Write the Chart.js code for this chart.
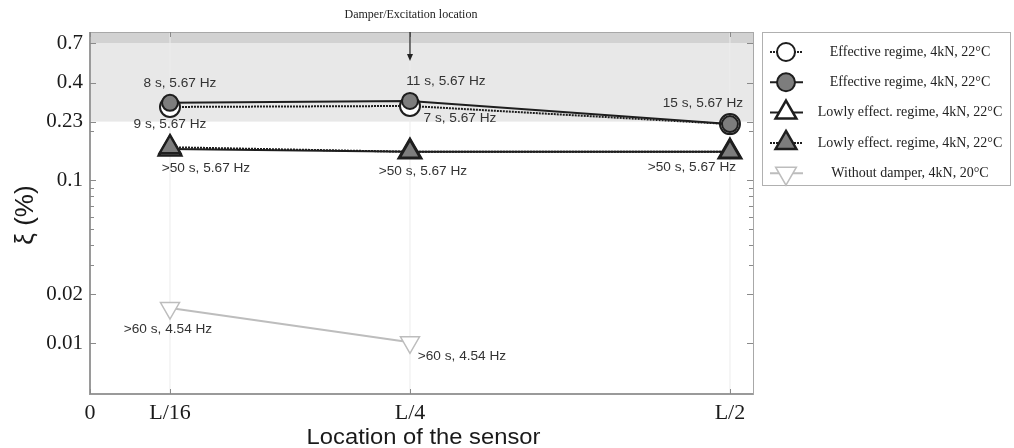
<!DOCTYPE html>
<html>
<head>
<meta charset="utf-8">
<script src="https://cdn.jsdelivr.net/npm/chart.js@4.4.1/dist/chart.umd.min.js"></script>
<style>
  body { margin: 0; background: #fff; }
  #wrap { width: 1014px; height: 448px; }
</style>
</head>
<body>
<div id="wrap"><canvas id="myChart" width="1014" height="448"></canvas></div>
<script>
// sensor positions (fraction of span L)
const positions = [0.0625, 0.25, 0.5];
const withoutDamperPositions = [0.0625, 0.25];
const xTickValues = [0, 0.0625, 0.25, 0.5];
const xTickLabels = ['0', 'L/16', 'L/4', 'L/2'];
const yTickValues = [0.01, 0.02, 0.1, 0.23, 0.4, 0.7];
const yMinorTicks = [0.03, 0.04, 0.05, 0.06, 0.07, 0.08, 0.09, 0.2];
const bandLow = 0.23;
const bandHigh = 0.7;

// damping ratio xi (%)
const effectiveOpen = [0.283, 0.287, 0.222];
const effectiveFilled = [0.300, 0.308, 0.222];
const lowlyOpen = [0.156, 0.150, 0.150];
const lowlyFilled = [0.160, 0.150, 0.150];
const withoutDamper = [0.0164, 0.0101];

// decay time / frequency notes
const effectiveFilledNotes = ['8 s, 5.67 Hz', '11 s, 5.67 Hz', '15 s, 5.67 Hz'];
const effectiveOpenNotes = ['9 s, 5.67 Hz', '7 s, 5.67 Hz', ''];
const lowlyNotes = ['>50 s, 5.67 Hz', '>50 s, 5.67 Hz', '>50 s, 5.67 Hz'];
const withoutDamperNotes = ['>60 s, 4.54 Hz', '>60 s, 4.54 Hz'];

const seriesNames = [
  'Effective regime, 4kN, 22\u00B0C',
  'Effective regime, 4kN, 22\u00B0C',
  'Lowly effect. regime, 4kN, 22\u00B0C',
  'Lowly effect. regime, 4kN, 22\u00B0C',
  'Without damper, 4kN, 20\u00B0C'
];

const toPoints = (xs, ys) => ys.map((v, i) => ({ x: xs[i], y: v }));

const DARK = '#1e1e1e';
const FILL = '#7d7d7d';
const LIGHT = '#bdbdbd';

const datasets = [
  { label: seriesNames[0], data: toPoints(positions, effectiveOpen), borderColor: DARK, borderWidth: 2, borderDash: [2, 1],
    pointStyle: 'circle', pointRadius: 10, pointBackgroundColor: '#fff', pointBorderColor: DARK, pointBorderWidth: 2, order: 2 },
  { label: seriesNames[1], data: toPoints(positions, effectiveFilled), borderColor: DARK, borderWidth: 2,
    pointStyle: 'circle', pointRadius: 8, pointBackgroundColor: FILL, pointBorderColor: DARK, pointBorderWidth: 2, order: 1 },
  { label: seriesNames[2], data: toPoints(positions, lowlyOpen), borderColor: DARK, borderWidth: 2,
    pointStyle: 'triangle', pointRadius: 13, pointBackgroundColor: '#fff', pointBorderColor: DARK, pointBorderWidth: 2.5, order: 2 },
  { label: seriesNames[3], data: toPoints(positions, lowlyFilled), borderColor: DARK, borderWidth: 2, borderDash: [2, 1],
    pointStyle: 'triangle', pointRadius: 12, pointBackgroundColor: FILL, pointBorderColor: DARK, pointBorderWidth: 2.5, order: 1 },
  { label: seriesNames[4], data: toPoints(withoutDamperPositions, withoutDamper), borderColor: LIGHT, borderWidth: 2,
    pointStyle: 'triangle', rotation: 180, pointRadius: 11, pointBackgroundColor: '#fff', pointBorderColor: LIGHT, pointBorderWidth: 1.5, order: 3 }
];

const notes = [
  { ds: 1, texts: effectiveFilledNotes, off: [[10, -19], [36, -20], [-27, -21]] },
  { ds: 0, texts: effectiveOpenNotes, off: [[0, 17], [50, 12], [0, 0]] },
  { ds: 2, texts: lowlyNotes, off: [[36, 19], [13, 20], [-38, 16]] },
  { ds: 4, texts: withoutDamperNotes, off: [[-2, 21], [52, 14]] }
];

// draw text slightly widened, like the scanned original
function wideText(ctx, text, x, y, sx) {
  ctx.save();
  ctx.translate(x, y);
  ctx.scale(sx, 1);
  ctx.fillText(text, 0, 0);
  ctx.restore();
}

const decorPlugin = {
  id: 'decor',
  beforeDatasetsDraw(chart) {
    const { ctx, chartArea: a, scales: { y } } = chart;
    const yLow = y.getPixelForValue(bandLow);
    const yHigh = y.getPixelForValue(bandHigh);
    ctx.save();
    ctx.fillStyle = '#e8e8e8';
    ctx.fillRect(a.left, a.top, a.right - a.left, yLow - a.top);
    ctx.fillStyle = '#d2d2d2';
    ctx.fillRect(a.left, a.top, a.right - a.left, yHigh - a.top);
    // faint vertical grid
    ctx.strokeStyle = '#ececec';
    ctx.lineWidth = 1;
    positions.forEach(p => {
      const px = chart.scales.x.getPixelForValue(p);
      ctx.beginPath(); ctx.moveTo(px, a.top); ctx.lineTo(px, a.bottom); ctx.stroke();
    });
    ctx.restore();
  },
  afterDatasetsDraw(chart) {
    const { ctx, chartArea: a, scales: { x, y } } = chart;
    ctx.save();
    // frame
    ctx.strokeStyle = '#a8a8a8';
    ctx.lineWidth = 1;
    ctx.strokeRect(a.left + 0.5, a.top + 0.5, a.right - a.left, a.bottom - a.top);
    ctx.strokeStyle = '#9a9a9a';
    ctx.lineWidth = 2;
    ctx.beginPath();
    ctx.moveTo(a.left, a.top); ctx.lineTo(a.left, a.bottom); ctx.lineTo(a.right, a.bottom);
    ctx.stroke();
    // inward ticks
    ctx.lineWidth = 1;
    ctx.strokeStyle = '#8a8a8a';
    yTickValues.concat(yMinorTicks).forEach(v => {
      const py = Math.round(y.getPixelForValue(v)) + 0.5;
      const len = yTickValues.includes(v) ? 6 : 4;
      ctx.beginPath();
      ctx.moveTo(a.left, py); ctx.lineTo(a.left + len, py);
      ctx.moveTo(a.right, py); ctx.lineTo(a.right - len, py);
      ctx.stroke();
    });
    xTickValues.forEach(v => {
      const px = Math.round(x.getPixelForValue(v)) + 0.5;
      ctx.beginPath();
      ctx.moveTo(px, a.bottom); ctx.lineTo(px, a.bottom - 5);
      ctx.moveTo(px, a.top); ctx.lineTo(px, a.top + 5);
      ctx.stroke();
    });

    // notes
    ctx.fillStyle = '#333';
    ctx.font = '13px "Liberation Sans", Arial, sans-serif';
    ctx.textAlign = 'center';
    ctx.textBaseline = 'middle';
    notes.forEach(n => {
      const meta = chart.getDatasetMeta(n.ds);
      n.texts.forEach((t, i) => {
        if (!t) return;
        const p = meta.data[i];
        wideText(ctx, t, p.x + n.off[i][0], p.y + n.off[i][1], 1.05);
      });
    });

    // damper location marker
    const dx = x.getPixelForValue(0.25);
    ctx.fillStyle = '#222';
    ctx.font = '12px "Liberation Serif", "Times New Roman", serif';
    ctx.fillText('Damper/Excitation location', dx + 1, 15);
    ctx.strokeStyle = '#222';
    ctx.lineWidth = 1.2;
    ctx.beginPath(); ctx.moveTo(dx, a.top); ctx.lineTo(dx, a.top + 24); ctx.stroke();
    ctx.beginPath();
    ctx.moveTo(dx - 3, a.top + 22); ctx.lineTo(dx + 3, a.top + 22); ctx.lineTo(dx, a.top + 29); ctx.closePath();
    ctx.fill();

    // axis titles
    ctx.fillStyle = '#1a1a1a';
    ctx.font = '22px "Liberation Sans", Arial, sans-serif';
    wideText(ctx, 'Location of the sensor', (a.left + a.right) / 2 + 2, 438, 1.08);
    ctx.save();
    ctx.translate(26, 215);
    ctx.rotate(-Math.PI / 2);
    ctx.font = '26px "Liberation Sans", Arial, sans-serif';
    ctx.fillText('\u03BE (%)', 0, 0);
    ctx.restore();

    ctx.restore();
  },
  afterDraw(chart) {
    // legend box
    const { ctx } = chart;
    const box = { left: 762, top: 32, right: 1010, bottom: 185 };
    ctx.save();
    ctx.fillStyle = '#fff';
    ctx.fillRect(box.left, box.top, box.right - box.left, box.bottom - box.top);
    ctx.strokeStyle = '#b0b0b0';
    ctx.lineWidth = 1;
    ctx.strokeRect(box.left + 0.5, box.top + 0.5, box.right - box.left, box.bottom - box.top);
    chart.data.datasets.forEach((ds, i) => {
      const cy = 52 + i * 30.3;
      const cx = 786;
      ctx.strokeStyle = ds.borderColor;
      ctx.lineWidth = ds.borderWidth;
      ctx.setLineDash(ds.borderDash || []);
      ctx.beginPath(); ctx.moveTo(770, cy); ctx.lineTo(803, cy); ctx.stroke();
      ctx.setLineDash([]);
      ctx.fillStyle = ds.pointBackgroundColor;
      ctx.strokeStyle = ds.pointBorderColor;
      ctx.lineWidth = ds.pointBorderWidth;
      ctx.beginPath();
      if (ds.pointStyle === 'circle') {
        ctx.arc(cx, cy, 9, 0, Math.PI * 2);
      } else {
        const r = 12;
        const flip = ds.rotation === 180 ? -1 : 1;
        ctx.moveTo(cx, cy - flip * r);
        ctx.lineTo(cx + r * 0.866, cy + flip * r * 0.5);
        ctx.lineTo(cx - r * 0.866, cy + flip * r * 0.5);
        ctx.closePath();
      }
      ctx.fill();
      ctx.stroke();
      ctx.fillStyle = '#222';
      ctx.font = '14px "Liberation Serif", "Times New Roman", serif';
      ctx.textAlign = 'center';
      ctx.textBaseline = 'middle';
      ctx.fillText(ds.label, 910, cy);
    });
    ctx.restore();
  }
};

const ctx = document.getElementById('myChart');

new Chart(ctx, {
  type: 'scatter',
  data: { datasets: datasets.map(d => Object.assign({ showLine: true, fill: false }, d)) },
  options: {
    responsive: false,
    animation: false,
    devicePixelRatio: 1,
    layout: { padding: { top: 32, right: 261, left: 0, bottom: 0 } },
    plugins: { legend: { display: false }, tooltip: { enabled: false } },
    scales: {
      x: {
        type: 'linear',
        min: 0,
        max: 0.518,
        afterFit: s => { s.height = 54; },
        afterBuildTicks: s => { s.ticks = xTickValues.map(v => ({ value: v })); },
        grid: { display: false, drawTicks: false },
        border: { display: false },
        ticks: {
          autoSkip: false,
          maxRotation: 0,
          padding: 6,
          color: '#1a1a1a',
          font: { family: '"Liberation Serif", "Times New Roman", serif', size: 22 },
          callback: v => xTickLabels[xTickValues.indexOf(v)]
        }
      },
      y: {
        type: 'logarithmic',
        min: 0.00486,
        max: 0.818,
        afterFit: s => { s.width = 90; },
        afterBuildTicks: s => { s.ticks = yTickValues.concat(yMinorTicks).map(v => ({ value: v })); },
        grid: { display: false, drawTicks: false },
        border: { display: false },
        ticks: {
          autoSkip: false,
          padding: 7,
          color: '#1a1a1a',
          font: { family: '"Liberation Serif", "Times New Roman", serif', size: 21 },
          callback: v => yTickValues.includes(v) ? String(v) : ''
        }
      }
    }
  },
  plugins: [decorPlugin]
});
</script>
</body>
</html>
